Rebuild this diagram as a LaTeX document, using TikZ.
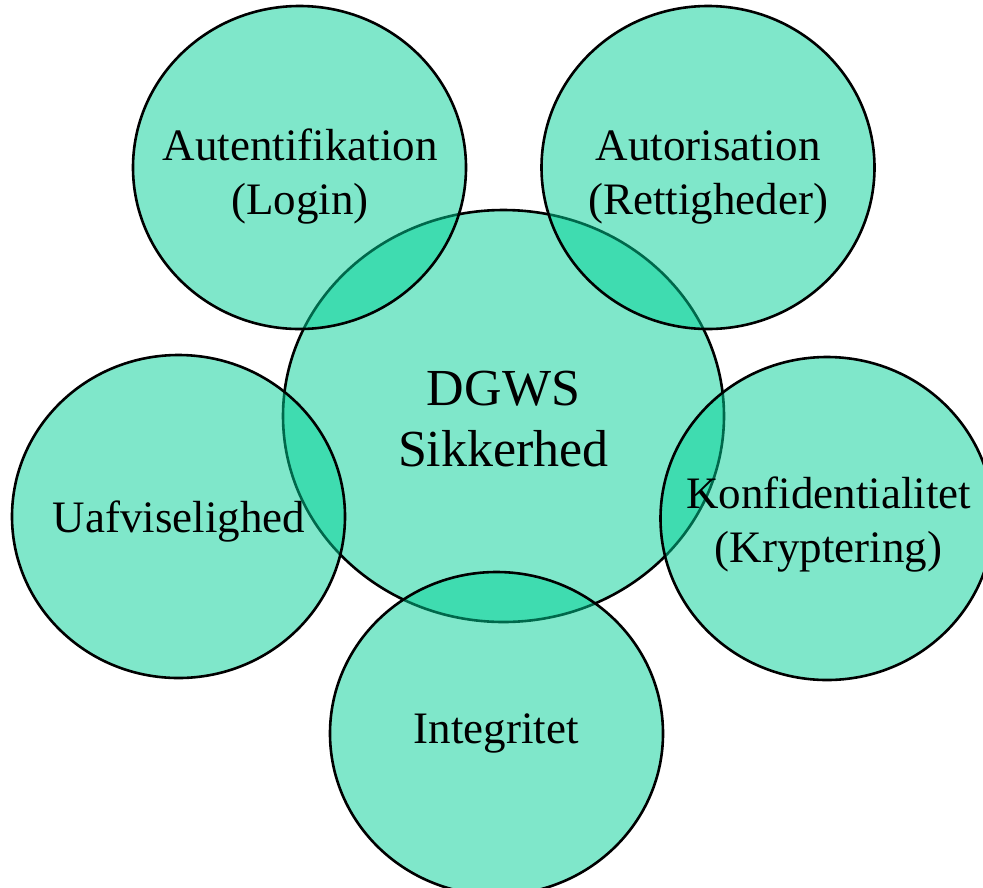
\documentclass[tikz,border=0pt]{standalone}
\usepackage{fontspec}
\setmainfont[Ligatures=NoCommon]{Liberation Serif}
\usepackage{tikz}
\definecolor{bubblegreen}{RGB}{0,208,150}

\begin{document}
\begin{tikzpicture}[x=1pt,y=-1pt,
		bubble/.style = {draw=black,line width=2.6pt,fill=bubblegreen,fill opacity=0.5},
		outerbubble/.style = {bubble,x radius=166.5,y radius=161.5},
		bubbletext/.style = {align=center,inner sep=0pt,font=\fontsize{45}{54}\selectfont},
		maintext/.style = {align=center,inner sep=0pt,font=\fontsize{52}{61}\selectfont}]
		\path[use as bounding box] (0,0) rectangle (983,887);
		% centre first, the others lie over it
		\coordinate (dgws) at (503.5,416);
		\coordinate (login) at (299.5,167.5);
		\coordinate (rights) at (708,167.5);
		\coordinate (nonrep) at (178.5,516.5);
		\coordinate (crypt) at (827,518.5);
		\coordinate (integ) at (496.5,733.5);
		\draw[bubble] (dgws) ellipse [x radius=220.5,y radius=206];
		\foreach \c in {login,rights,nonrep,crypt,integ}
		    \draw[outerbubble] (\c) ellipse [];
		% labels
		\node [maintext] (dgwslabel) at (503.5,419) {DGWS\\Sikkerhed};
		\node [bubbletext] (loginlabel) at (300,177) {Autentifikation\\(Login)};
		\node [bubbletext] (rightslabel) at (708,177) {Autorisation\\(Rettigheder)};
		\node [bubbletext] (nonreplabel) at (179,522) {Uafviselighed};
		\node [bubbletext] (cryptlabel) at (828.5,525) {Konfidentialitet\\(Kryptering)};
		\node [bubbletext] (integlabel) at (496,733) {Integritet};
\end{tikzpicture}
\end{document}
